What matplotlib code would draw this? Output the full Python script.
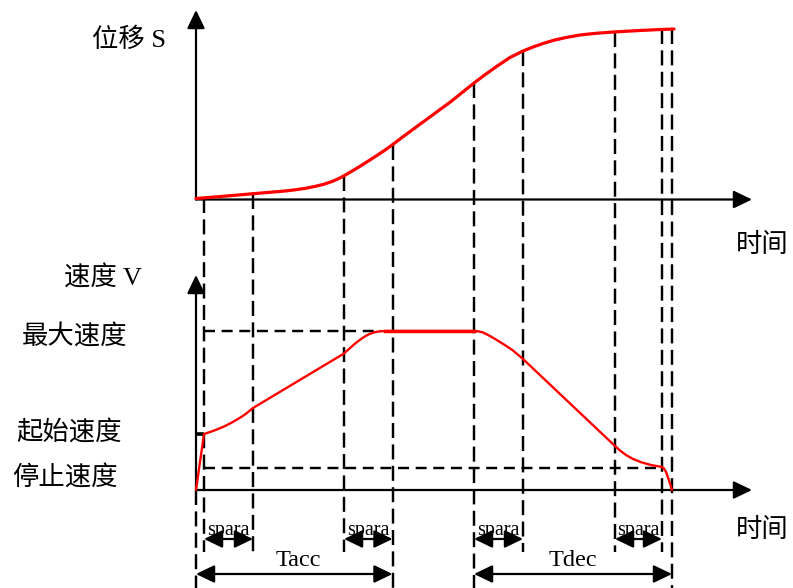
import matplotlib
matplotlib.use("Agg")
import matplotlib.pyplot as plt
from matplotlib.patches import FancyArrowPatch
import numpy as np

plt.rcParams['font.family'] = ['Liberation Serif', 'Noto Sans CJK SC', 'DejaVu Sans']
plt.rcParams['lines.scale_dashes'] = False

# ---------------- data (time measured from the origin, values above each time axis) ----------------
# phase boundary times
t_bounds = [8, 57, 148, 196.5, 278, 327, 419, 466, 476]

# displacement curve S(t)
s_time = [0, 20, 40, 57, 75, 90, 100, 110, 120, 128, 136, 142, 148, 155, 163, 172, 181, 189, 197, 210, 225,
          240, 255, 278, 290, 302, 314, 327, 337, 347, 358, 370, 384, 400, 419, 440, 460, 478]
s_vals = [1, 2.6, 4.3, 5.8, 7.3, 8.6, 9.8, 11.3, 13.3, 15.3, 18, 20.6, 23.7, 27.8, 32.6, 38.3, 44.1, 49.4, 55.2, 65, 76,
          87, 98, 116.5, 125.5, 134, 142, 148.5, 152.5, 156, 159.3, 162, 164.5, 166.2, 167.6, 168.8, 169.8, 170.5]

# velocity curve V(t)
v_time = [0, 8, 14, 21, 28, 35, 42, 49, 57, 148, 153, 158, 163, 168, 173, 178, 183, 189, 196.5,
          278, 282, 287, 293, 300, 308, 317, 327, 419, 424, 430, 437, 445, 455, 466, 468, 470, 472, 474, 476]
v_vals = [0, 56, 58, 60.5, 63.5, 67, 71, 75.5, 82, 136.5, 141, 145.5, 149.5, 153, 155.8, 157.6, 158.6, 159, 159,
          159, 158.7, 157.5, 154.5, 150.5, 145.5, 139.5, 131, 44, 39.5, 35, 31, 27.8, 25, 23, 21.5, 18, 12.5, 6.5, 0]

v_max = 159
v_start = 56
v_stop = 22.5

# labels
s_label = "位移 S"
v_label = "速度 V"
t_label = "时间"
vmax_label = "最大速度"
vstart_label = "起始速度"
vstop_label = "停止速度"
spara_label = "spara"
tacc_label = "Tacc"
tdec_label = "Tdec"

# ---------------- layout ----------------
OX = 196.0      # origin x of both charts
TOP_Y0 = 199.5  # top chart time axis
BOT_Y0 = 490.0  # bottom chart time axis
X_END = 752
TOP_YEND = 10
BOT_YEND = 275
RED = "#ff0000"

def X(t):
    return OX + np.asarray(t, dtype=float)

def YS(s):
    return TOP_Y0 - np.asarray(s, dtype=float)

def YV(v):
    return BOT_Y0 - np.asarray(v, dtype=float)

fig = plt.figure(figsize=(7.93, 5.88), dpi=100)
ax = fig.add_axes([0, 0, 1, 1])
ax.set_xlim(0, 793)
ax.set_ylim(588, 0)
ax.axis("off")

AX_LW = 1.6

def axis_arrow(x0, y0, x1, y1):
    a = FancyArrowPatch((x0, y0), (x1, y1), arrowstyle="-|>", mutation_scale=20,
                        shrinkA=0, shrinkB=0, color="black", lw=AX_LW)
    a.set_arrowstyle("-|>", head_length=0.56, head_width=0.27)
    ax.add_patch(a)

def dim_arrow(x0, x1, y):
    a = FancyArrowPatch((x0, y), (x1, y), arrowstyle="<|-|>", mutation_scale=20,
                        shrinkA=0, shrinkB=0, color="black", lw=1.6)
    a.set_arrowstyle("<|-|>", head_length=0.56, head_width=0.27)
    ax.add_patch(a)

# axes
axis_arrow(OX, TOP_Y0, OX, TOP_YEND)
axis_arrow(OX, TOP_Y0, X_END, TOP_Y0)
axis_arrow(OX, BOT_Y0, OX, BOT_YEND)
axis_arrow(OX, BOT_Y0, X_END, BOT_Y0)

VDASH = (0, (10.8, 4.6))
HDASH = (0, (7.9, 4.8))
DLW = 1.75

# vertical dashed guide lines
long_idx = {3, 4, 8}
for i, t in enumerate(t_bounds):
    s_top = np.interp(t, s_time, s_vals)
    y_bot = 588 if i in long_idx else 552
    ax.plot([X(t), X(t)], [YS(s_top), y_bot], color="black", lw=DLW, linestyle=VDASH)
# left boundary below bottom axis
ax.plot([OX, OX], [BOT_Y0, 588], color="black", lw=DLW, linestyle=VDASH)

# horizontal dashed speed levels
ax.plot([X(t_bounds[0]), X(185)], [YV(v_max), YV(v_max)], color="black", lw=DLW, linestyle=HDASH)
ax.plot([X(t_bounds[0]), X(t_bounds[7])], [YV(v_stop), YV(v_stop)], color="black", lw=DLW, linestyle=HDASH)

# start speed tick
ax.plot([OX, X(t_bounds[0])], [YV(v_start), YV(v_start)], color="black", lw=2.6, solid_capstyle="butt")

# curves
ax.plot(X(s_time), YS(s_vals), color=RED, lw=2.3, solid_capstyle="round", solid_joinstyle="round")
ax.plot(X(v_time), YV(v_vals), color=RED, lw=1.7, solid_capstyle="round", solid_joinstyle="round")
ax.plot([X(189), X(278)], [YV(v_max), YV(v_max)], color=RED, lw=2.5)

# dimension arrows
spara_y = 539
for a, b in [(0, 1), (2, 3), (4, 5), (6, 7)]:
    dim_arrow(X(t_bounds[a]), X(t_bounds[b]), spara_y)
    ax.text((X(t_bounds[a]) + X(t_bounds[b])) / 2, 530, spara_label, fontsize=14.5,
            ha="center", va="center")
dim_arrow(OX, X(t_bounds[3]), 574)
dim_arrow(X(t_bounds[4]), X(t_bounds[8]), 574)
ax.text(298, 560, tacc_label, fontsize=17.5, ha="center", va="center")
ax.text(573, 560, tdec_label, fontsize=17.5, ha="center", va="center")

# text labels
FS = 19
ax.text(92, 40, s_label, fontsize=FS, ha="left", va="center")
ax.text(64, 278, v_label, fontsize=FS, ha="left", va="center")
ax.text(736, 245, t_label, fontsize=FS, ha="left", va="center")
ax.text(736, 530, t_label, fontsize=FS, ha="left", va="center")
ax.text(22, 337, vmax_label, fontsize=FS, ha="left", va="center")
ax.text(16, 433, vstart_label, fontsize=FS, ha="left", va="center")
ax.text(12, 478, vstop_label, fontsize=FS, ha="left", va="center")

fig.savefig("out.png", dpi=100)
